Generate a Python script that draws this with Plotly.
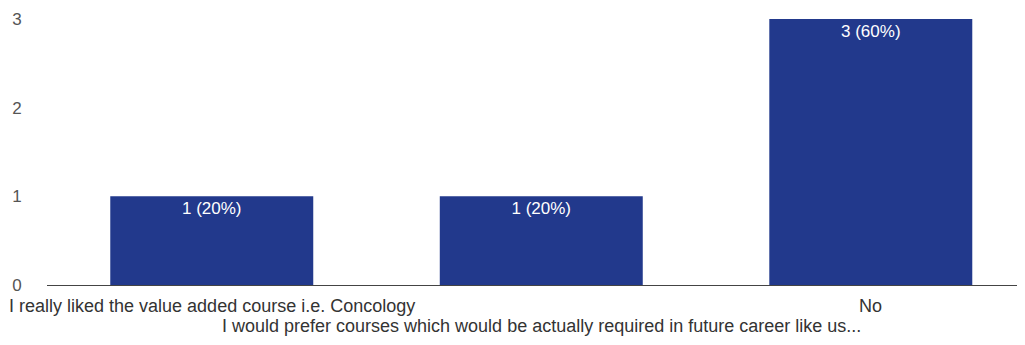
import plotly.graph_objects as go

categories = [
    "I really liked the value added course i.e. Concology",
    "I would prefer courses which would be actually required in future career like us...",
    "No",
]
counts = [1, 1, 3]
percents = [20, 20, 60]
label_rows = [0, 1, 0]  # which row each axis label sits on (staggered)
y_ticks = [0, 1, 2, 3]

bar_text = [f"{c} ({p}%)" for c, p in zip(counts, percents)]

fig = go.Figure()
fig.add_trace(go.Bar(
    x=categories,
    y=counts,
    text=bar_text,
    textposition="inside",
    insidetextanchor="end",
    textfont=dict(color="white", size=17, family="Liberation Sans, Arial"),
    marker=dict(color="#22398c", line=dict(width=0)),
    width=0.616,
    hoverinfo="skip",
))

for cat, row in zip(categories, label_rows):
    fig.add_annotation(
        x=cat, xref="x", y=0, yref="paper",
        text=cat, showarrow=False,
        xanchor="center", yanchor="top",
        yshift=-9 - 20 * row,
        font=dict(size=18, color="#333333", family="Liberation Sans, Arial"),
    )

# page body adds an 8px offset, so the figure is sized/margined to compensate
fig.update_layout(
    width=1017, height=337,
    margin=dict(l=39, r=0, t=11, b=60, autoexpand=False),
    plot_bgcolor="white", paper_bgcolor="white",
    showlegend=False,
    font=dict(family="Liberation Sans, Arial", color="#555555", size=15),
)
fig.update_xaxes(
    range=[-0.5, 2.468],
    showticklabels=False,
    showgrid=False,
    showline=True, linecolor="#444444", linewidth=1,
    ticks="",
    automargin=False,
)
fig.update_yaxes(
    range=[0, 3],
    tickvals=y_ticks,
    showgrid=False,
    zeroline=False,
    showline=False,
    ticks="outside", ticklen=21, tickcolor="rgba(0,0,0,0)",
    tickfont=dict(size=17, color="#555555"),
    automargin=False,
)

fig.write_html("out.html")
